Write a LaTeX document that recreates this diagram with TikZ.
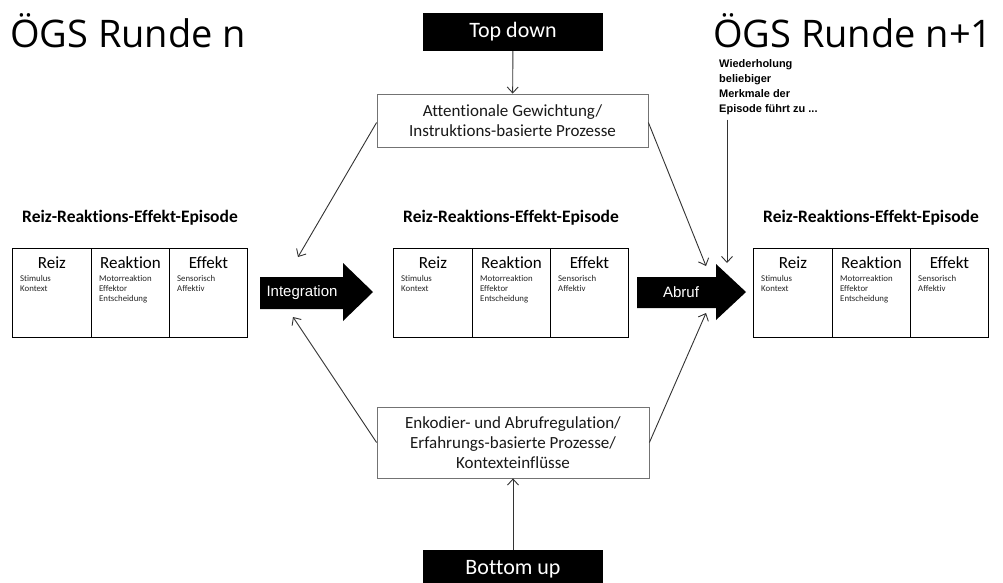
\documentclass[tikz,border=0pt]{standalone}
\usepackage{fontspec}
\setmainfont[Ligatures={NoCommon,TeX}]{Carlito}
\newfontfamily\segoe{Open Sans}
\newfontfamily\arialfont{Liberation Sans}
\usetikzlibrary{arrows.meta}
\tikzset{
  conn/.style={draw=black!80, line width=0.9pt, -{Straight Barb[length=6pt,width=11pt,line width=0.9pt]}},
  procbox/.style={draw=black!55, line width=0.8pt, fill=white, align=center, text=black!90,
    font=\fontsize{17}{20}\selectfont, inner sep=0pt},
  blackbox/.style={fill=black, text=white, font=\fontsize{22}{26}\selectfont,
    minimum width=180pt, minimum height=38pt, inner sep=0pt},
  cell/.style={draw=black, line width=0.9pt, minimum height=89pt, anchor=north west, inner sep=0pt},
  cellhead/.style={font=\fontsize{17}{20}\selectfont, anchor=center, inner sep=0pt},
  cellsub/.style={font=\fontsize{8.8}{10}\selectfont, anchor=north west, align=left, inner sep=0pt, text=black!85},
  eptitle/.style={font=\bfseries\fontsize{17.5}{20}\selectfont, inner sep=0pt},
  bigtitle/.style={font=\segoe\fontsize{38}{44}\selectfont, anchor=base west, inner sep=0pt},
  arrowlbl/.style={font=\arialfont\fontsize{15}{18}\selectfont, text=white, inner sep=0pt},
  bigarrow/.style={fill=black}
}
\newcommand\episodebox[3]{%
  \node[eptitle] (#1t) at (#2+118,218) {Reiz-Reaktions-Effekt-Episode};
  \node[cell, minimum width=79pt] (#1a) at (#2,#3) {};
  \node[cell, minimum width=78pt] (#1b) at (#2+79,#3) {};
  \node[cell, minimum width=78pt] (#1c) at (#2+157,#3) {};
  \node[cellhead] (#1ah) at ([yshift=-15pt]#1a.north) {Reiz};
  \node[cellhead] (#1bh) at ([yshift=-15pt]#1b.north) {Reaktion};
  \node[cellhead] (#1ch) at ([yshift=-15pt]#1c.north) {Effekt};
  \node[cellsub] (#1as) at ([xshift=8pt,yshift=-27pt]#1a.north west) {Stimulus\\Kontext};
  \node[cellsub] (#1bs) at ([xshift=8pt,yshift=-27pt]#1b.north west) {Motorreaktion\\Effektor\\Entscheidung};
  \node[cellsub] (#1cs) at ([xshift=8pt,yshift=-27pt]#1c.north west) {Sensorisch\\Affektiv};
}
\begin{document}
\begin{tikzpicture}[x=1pt,y=-1pt]
\useasboundingbox (0,0) rectangle (1003,582);
\fill[white] (0,0) rectangle (1003,582);

% titles
\node[bigtitle] (tl) at (10,47) {ÖGS Runde n};
\node[bigtitle] (tr) at (713,47) {ÖGS Runde n+1};

% top / bottom drivers
\node[blackbox] (top) at (513,32) {Top down};
\node[blackbox] (bot) at (513,569) {Bottom up};

% process boxes
\node[procbox, minimum width=271pt, minimum height=53pt] (attn) at (512.5,120.5)
  {Attentionale Gewichtung/\\Instruktions-basierte Prozesse};
\node[procbox, minimum width=272pt, minimum height=71pt] (enk) at (513,442.5)
  {Enkodier- und Abrufregulation/\\Erfahrungs-basierte Prozesse/\\Kontexteinflüsse};

\draw[conn] (top) -- (attn);
\draw[conn] (bot) -- (enk);

% episodes
\episodebox{l}{12}{248}
\episodebox{m}{393}{248}
\episodebox{r}{753}{248}

% big arrows
\fill[bigarrow] (260,277) -- (343,277) -- (343,263) -- (373,292) -- (343,321) -- (343,309) -- (260,309) -- cycle;
\node[arrowlbl] (integ) at (302,293) {Integration};
\fill[bigarrow] (637,277) -- (716,277) -- (716,264) -- (746,292) -- (716,320) -- (716,308) -- (637,308) -- cycle;
\node[arrowlbl] (abruf) at (681,292) {Abruf};

% connector ends
\coordinate (ia) at (298,257);
\coordinate (ib) at (293,317);
\coordinate (aa) at (706,266);
\coordinate (ab) at (706,313);
\coordinate (wt) at (727,263);

\draw[conn] ([yshift=-2pt]attn.west) -- (ia);
\draw[conn] ([yshift=-2pt]attn.east) -- (aa);
\draw[conn] (enk.west) -- (ib);
\draw[conn] (enk.east) -- (ab);

% Wiederholung note
\node[font=\arialfont\bfseries\fontsize{11}{15}\selectfont, anchor=north west, align=left, inner sep=0pt]
  (wied) at (719,59) {Wiederholung\\beliebiger\\Merkmale der\\Episode führt zu ...};
\draw[conn] ([xshift=8pt,yshift=-5pt]wied.south west) -- (wt);
\end{tikzpicture}
\end{document}
